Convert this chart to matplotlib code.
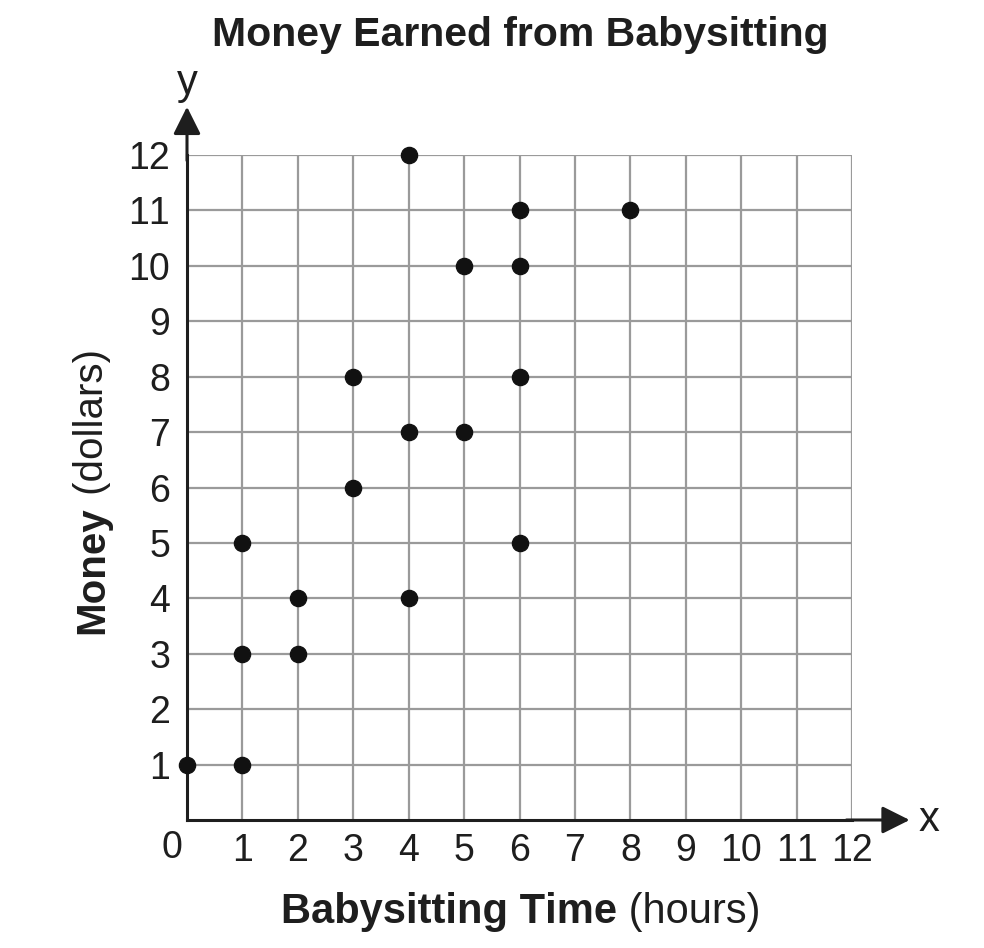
import matplotlib.pyplot as plt

plt.rcParams['font.family'] = ['Liberation Sans', 'DejaVu Sans']
if 'text.kerning_factor' in plt.rcParams:
    plt.rcParams['text.kerning_factor'] = 10  # keep "11" from collapsing

# data
hours = [0, 1, 1, 1, 2, 2, 3, 3, 4, 4, 4, 5, 5, 6, 6, 6, 6, 8]
money = [1, 1, 3, 5, 3, 4, 6, 8, 4, 7, 12, 7, 10, 5, 8, 10, 11, 11]
ticks = list(range(1, 13))

title = 'Money Earned from Babysitting'
xlab_bold, xlab_reg = 'Babysitting Time', ' (hours)'
ylab_bold, ylab_reg = 'Money', ' (dollars)'

ink = '#1e1e1e'

fig = plt.figure(figsize=(9.84, 9.48), dpi=100)
W, H = 984, 948
ax = fig.add_axes([187 / W, (H - 820) / H, 665 / W, 665 / H])

ax.set_xlim(0, 12)
ax.set_ylim(0, 12)

# grid
for v in range(1, 13):
    ax.axvline(v, color='#9a9a9a', lw=1.6, zorder=1)
    ax.axhline(v, color='#9a9a9a', lw=1.6, zorder=1)

for s in ['top', 'right']:
    ax.spines[s].set_visible(False)
for s in ['left', 'bottom']:
    ax.spines[s].set_linewidth(2.2)
    ax.spines[s].set_color(ink)
    ax.spines[s].set_zorder(2)

ax.set_xticks(ticks)
ax.set_yticks(ticks)
ax.tick_params(length=0, labelsize=27, colors=ink)
ax.tick_params(axis='x', pad=9.5)
ax.tick_params(axis='y', pad=12)

ax.scatter(hours, money, s=135, color='#111111', zorder=3, clip_on=False)

# arrows on the axes
arrow = dict(arrowstyle='-|>', color=ink, lw=2.2, mutation_scale=42,
             shrinkA=0, shrinkB=0)
ax.annotate('', xy=(13.04, 0), xytext=(11.9, 0), arrowprops=arrow,
            annotation_clip=False)
ax.annotate('', xy=(0, 12.87), xytext=(0, 11.9), arrowprops=arrow,
            annotation_clip=False)
ax.text(13.38, 0, 'x', fontsize=30, ha='center', va='center', color=ink)
ax.text(0, 13.3, 'y', fontsize=30, ha='center', va='center', color=ink)
ax.text(-0.27, -0.5, '0', fontsize=27, ha='center', va='center', color=ink)

fig.text(520 / W, 1 - 46 / H, title, fontsize=29.5, fontweight='bold',
         ha='center', va='baseline', color=ink)

t1 = fig.text(617 / W, 1 - 923 / H, xlab_bold, fontsize=30, fontweight='bold',
              ha='right', va='baseline', color=ink)
ax.annotate(xlab_reg, xy=(1, 0), xycoords=t1, fontsize=30,
            ha='left', va='bottom', color=ink)

t2 = fig.text(92 / W, 1 - 634 / H, ylab_bold, fontsize=29, fontweight='bold',
              rotation=90, ha='center', va='bottom', color=ink)
ax.annotate(ylab_reg, xy=(0.5, 1), xycoords=t2, fontsize=29, rotation=90,
            ha='center', va='bottom', color=ink)

fig.savefig('out.png', dpi=100)
